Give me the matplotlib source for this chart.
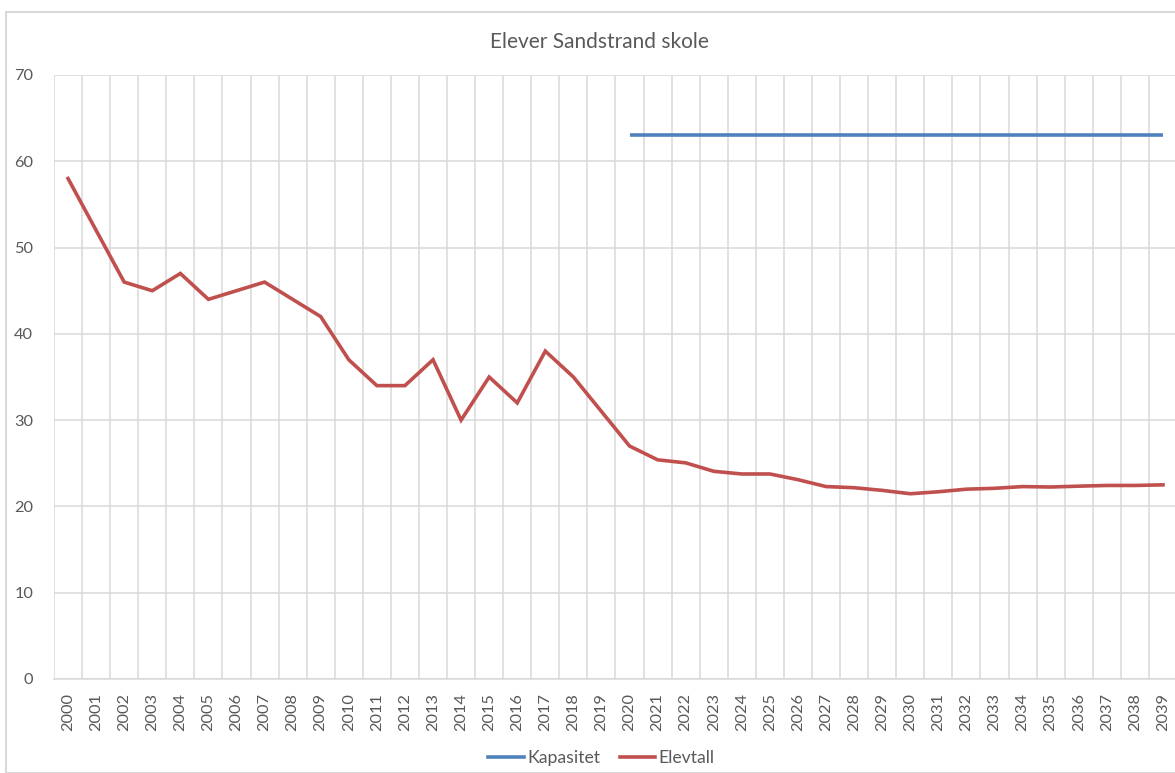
import matplotlib
matplotlib.use("Agg")
import matplotlib.pyplot as plt
from matplotlib.patches import Rectangle
from matplotlib.lines import Line2D

plt.rcParams['font.family'] = ['Lato', 'DejaVu Sans']

years = [str(y) for y in range(2000, 2040)]
elevtall = [58, 52, 46, 45, 47, 44, 45, 46, 44, 42,
            37, 34, 34, 37, 30, 35, 32, 38, 35, 31,
            27.0, 25.4, 25.05, 24.07, 23.76, 23.76, 23.1, 22.3, 22.17, 21.86,
            21.47, 21.7, 22.0, 22.1, 22.3, 22.25, 22.35, 22.43, 22.43, 22.5]
kap_years = [str(y) for y in range(2020, 2040)]
kapasitet = [63] * len(kap_years)

W, H = 1175, 773
fig = plt.figure(figsize=(W / 100, H / 100), dpi=100)
fig.patch.set_facecolor('white')

# chart frame
fig.add_artist(Rectangle((6 / W, 0), 1.2, 1 - 12 / H, transform=fig.transFigure,
                         fill=False, edgecolor='#d9d9d9', linewidth=1.5))

left, right, top, bottom = 54, 1177, 75, 679
ax = fig.add_axes([left / W, 1 - bottom / H, (right - left) / W, (bottom - top) / H])

x = list(range(len(years)))
idx = {y: i for i, y in enumerate(years)}
kx = [idx[y] for y in kap_years]

ax.plot(kx, kapasitet, color='#4f81bd', linewidth=2.6, solid_capstyle='butt', zorder=3)
ax.plot(x, elevtall, color='#c0504d', linewidth=2.6, solid_joinstyle='miter', zorder=3)

ax.set_xlim(-0.5, len(years) - 0.5)
ax.set_ylim(0, 70)
ax.set_yticks(range(0, 71, 10))
ax.set_xticks(x)
ax.set_xticklabels(years, rotation=90)
ax.set_xticks([i - 0.5 for i in range(len(years) + 1)], minor=True)

ax.grid(True, which='major', axis='y', color='#d9d9d9', linewidth=1.1)
ax.grid(True, which='minor', axis='x', color='#d9d9d9', linewidth=1.1)
ax.set_axisbelow(True)
for s in ['top', 'right', 'left']:
    ax.spines[s].set_visible(False)
ax.spines['bottom'].set_color('#d9d9d9')
ax.spines['bottom'].set_linewidth(1.1)

ax.tick_params(axis='both', which='both', length=0, colors='#595959', labelsize=11.8)
ax.tick_params(axis='y', pad=15)
ax.tick_params(axis='x', pad=10)

fig.text(599.5 / W, 1 - 42 / H, 'Elever Sandstrand skole', ha='center', va='center',
         fontsize=15, color='#595959')

handles = [Line2D([], [], color='#4f81bd', linewidth=2.6),
           Line2D([], [], color='#c0504d', linewidth=2.6)]
fig.legend(handles, ['Kapasitet', 'Elevtall'], loc='center', bbox_to_anchor=(601.5 / W, 1 - 758 / H),
           ncol=2, frameon=False, fontsize=12.7, labelcolor='#595959',
           handlelength=2.0, handletextpad=0.2, columnspacing=1.1)

fig.savefig('out.png', dpi=100, facecolor='white')
